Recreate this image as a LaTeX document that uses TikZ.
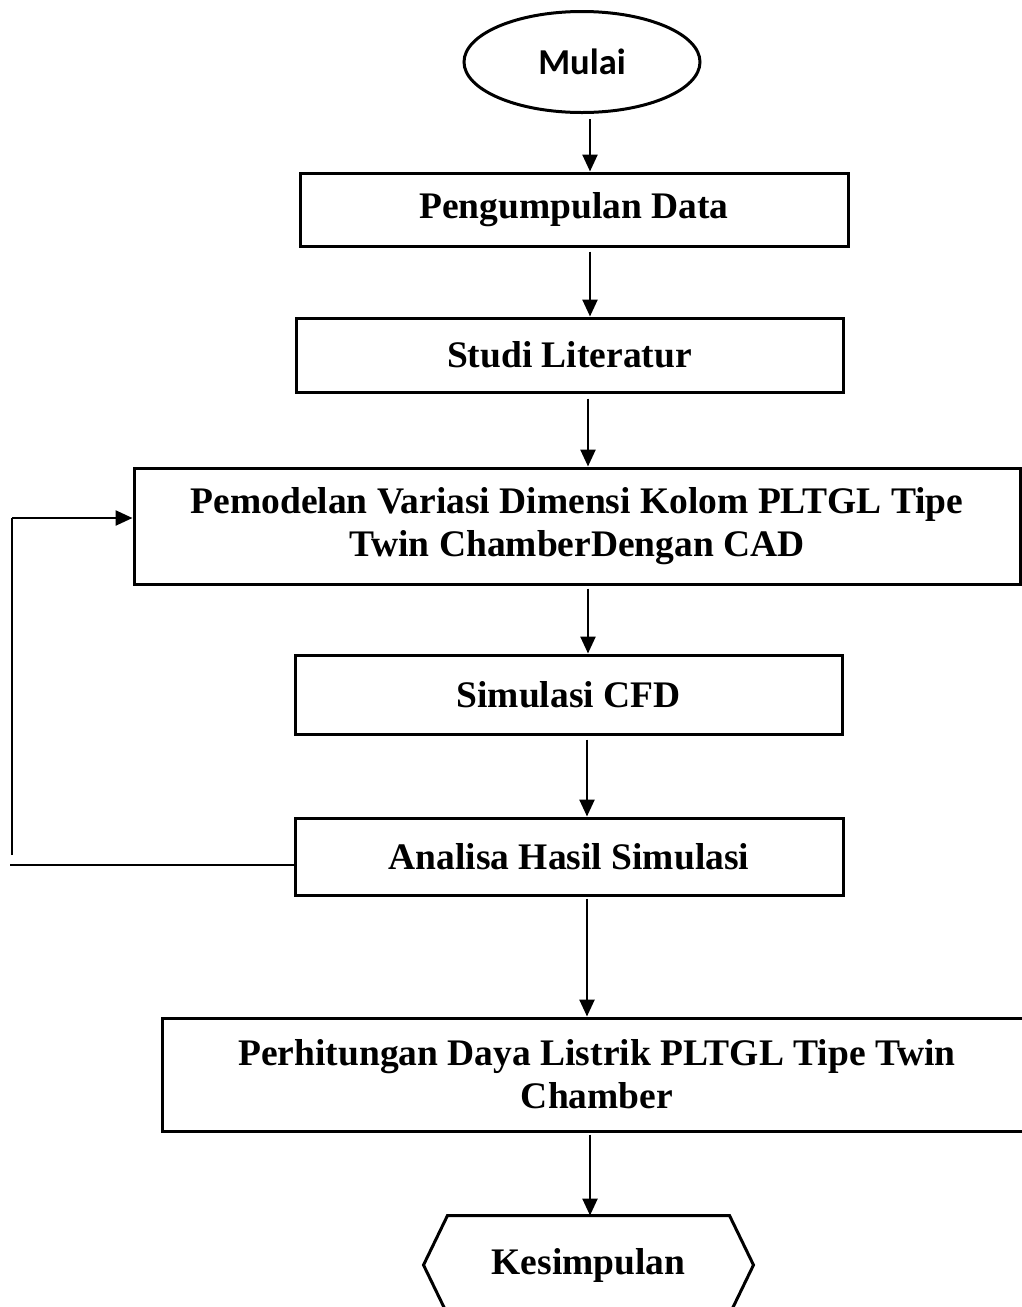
\documentclass[tikz,border=0pt]{standalone}
\usepackage{fontspec}
\setmainfont{Liberation Serif}
\newfontfamily\calfont{Carlito}
\usetikzlibrary{arrows.meta,calc,shapes.geometric}
\begin{document}
\begin{tikzpicture}[x=1pt,y=-1pt,
  box/.style={draw,line width=3pt,inner sep=0pt,align=center,
    font=\fontsize{37.5}{43}\selectfont\bfseries},
  arr/.style={line width=2.5pt,-{Triangle[width=15pt,length=17pt]}},
  ln/.style={line width=2.5pt}]
\useasboundingbox (0,0) rectangle (1022,1307);
\clip (0,0) rectangle (1022,1307);
\node[draw,ellipse,line width=3pt,inner sep=0pt,minimum width=236pt,minimum height=101pt,
  font=\calfont\fontsize{36.5}{40}\selectfont\bfseries] (mulai) at (582,62) {Mulai};
\node[box,minimum width=548pt,minimum height=73pt] (peng) at (574,209.5) {Pengumpulan Data};
\node[box,minimum width=547pt,minimum height=74pt] (studi) at (569.5,355) {Studi Literatur};
\node[box,minimum width=886pt,minimum height=116pt] (pemod) at (577,526)
  {Pemodelan Variasi Dimensi Kolom PLTGL Tipe\\Twin ChamberDengan CAD};
\node[box,minimum width=547pt,minimum height=79pt] (sim) at (568.5,694.5) {Simulasi CFD};
\node[box,minimum width=548pt,minimum height=77pt] (anal) at (569,856.5) {Analisa Hasil Simulasi};
\node[box,minimum width=870pt,minimum height=113pt] (perh) at (597,1074.5)
  {Perhitungan Daya Listrik PLTGL Tipe Twin\\Chamber};
\node[box,draw=none,minimum width=327pt,minimum height=96pt] (kes) at (588.5,1265) {Kesimpulan};
\draw[line width=3pt,line join=miter]
  (kes.west) -- ($(kes.north west)+(24,0)$) -- ($(kes.north east)+(-24,0)$) -- (kes.east)
  -- ($(kes.south east)+(-24,0)$) -- ($(kes.south west)+(24,0)$) -- cycle;
% connectors
\coordinate (c1) at (590,0);
\coordinate (c2) at (588,0);
\coordinate (c3) at (587,0);
\draw[arr] ($(c1 |- mulai.south)+(0,5)$) -- (c1 |- peng.north);
\draw[arr] ($(c1 |- peng.south)+(0,4)$) -- (c1 |- studi.north);
\draw[arr] ($(c2 |- studi.south)+(0,5)$) -- (c2 |- pemod.north);
\draw[arr] ($(c2 |- pemod.south)+(0,3)$) -- (c2 |- sim.north);
\draw[arr] ($(c3 |- sim.south)+(0,4)$) -- (c3 |- anal.north);
\draw[arr] ($(c3 |- anal.south)+(0,2)$) -- (c3 |- perh.north);
\draw[arr] ($(c1 |- perh.south)+(0,2)$) -- (c1 |- kes.north);
% feedback loop
\coordinate (fbbot) at (10,865);
\coordinate (fbup) at (12,855);
\coordinate (fbtop) at (12,518);
\draw[ln] ($(anal.west)+(0,8.5)$) -- (fbbot);
\draw[ln] (fbup) -- (fbtop);
\draw[arr] (fbtop) -- (fbtop -| pemod.west);
\end{tikzpicture}
\end{document}
